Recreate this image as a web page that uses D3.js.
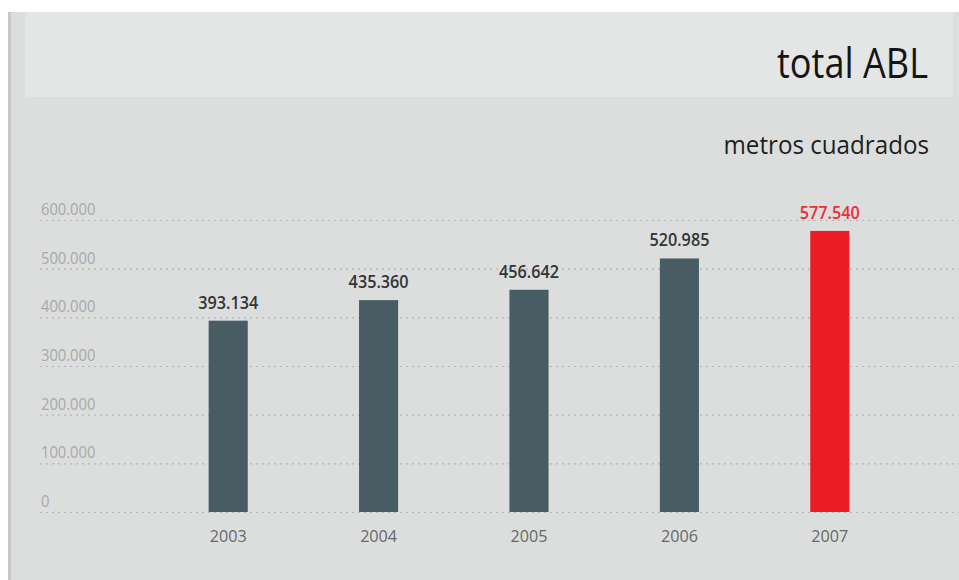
<!DOCTYPE html>
<html>
<head>
<meta charset="utf-8">
<script src="https://cdn.jsdelivr.net/npm/d3@7"></script>
<style>
  body { margin: 0; background: #fff; }
  svg { display: block; font-family: "Open Sans", "Noto Sans", sans-serif; }
</style>
</head>
<body>
<svg id="chart" width="959" height="580"></svg>
<script>
// data
var years = ["2003", "2004", "2005", "2006", "2007"];
var areaValues = [393134, 435360, 456642, 520985, 577540];
var valueLabels = ["393.134", "435.360", "456.642", "520.985", "577.540"];
var tickValues = [0, 100000, 200000, 300000, 400000, 500000, 600000];
var tickLabels = ["0", "100.000", "200.000", "300.000", "400.000", "500.000", "600.000"];

var svg = d3.select("#chart");

// background panel
svg.append("rect").attr("x", 8).attr("y", 12).attr("width", 951).attr("height", 568).attr("fill", "#dcdedd");
svg.append("rect").attr("x", 8).attr("y", 12).attr("width", 3).attr("height", 568).attr("fill", "#c6c8c7");
// header band
svg.append("rect").attr("x", 25).attr("y", 12).attr("width", 928).attr("height", 85).attr("fill", "#e4e6e5");

// title, squeezed a bit to look like a condensed face
svg.append("text")
    .attr("transform", "translate(928,78) scale(0.86,1)")
    .attr("text-anchor", "end")
    .attr("font-size", 42)
    .attr("fill", "#151515")
    .text("total ABL");

svg.append("text")
    .attr("transform", "translate(929,154) scale(0.93,1)")
    .attr("text-anchor", "end")
    .attr("font-size", 26)
    .attr("fill", "#1e1e1e")
    .text("metros cuadrados");

// scales
var x = d3.scaleBand().domain(years).range([153, 905]).paddingInner(0.74).paddingOuter(0.37);
var y = d3.scaleLinear().domain([0, 600000]).range([512, 220]);

// dotted gridlines
svg.append("g").selectAll("line")
    .data(tickValues)
    .join("line")
    .attr("x1", 40).attr("x2", 959)
    .attr("y1", function(d) { return y(d) + 0.5; })
    .attr("y2", function(d) { return y(d) + 0.5; })
    .attr("stroke", "#b2b5b4")
    .attr("stroke-width", 1.2)
    .attr("stroke-dasharray", "2,4");

// y tick labels
svg.append("g").selectAll("text")
    .data(tickValues)
    .join("text")
    .attr("transform", function(d) { return "translate(41," + (y(d) - 5) + ") scale(0.92,1)"; })
    .attr("font-size", 16)
    .attr("fill", "#a6a9a8")
    .text(function(d, i) { return tickLabels[i]; });

// bars
svg.append("g").selectAll("rect")
    .data(areaValues)
    .join("rect")
    .attr("x", function(d, i) { return x(years[i]); })
    .attr("y", function(d) { return y(d); })
    .attr("width", x.bandwidth())
    .attr("height", function(d) { return y(0) - y(d); })
    .attr("fill", function(d, i) { return i === years.length - 1 ? "#ec1c24" : "#475d63"; });

// value labels
svg.append("g").selectAll("text")
    .data(areaValues)
    .join("text")
    .attr("transform", function(d, i) {
        return "translate(" + (x(years[i]) + x.bandwidth() / 2) + "," + (y(d) - 12) + ") scale(0.9,1)";
    })
    .attr("text-anchor", "middle")
    .attr("font-size", 18)
    .attr("font-weight", 600)
    .attr("fill", function(d, i) { return i === years.length - 1 ? "#e8303a" : "#333535"; })
    .text(function(d, i) { return valueLabels[i]; });

// year labels
svg.append("g").selectAll("text")
    .data(years)
    .join("text")
    .attr("transform", function(d) { return "translate(" + (x(d) + x.bandwidth() / 2) + ",542) scale(0.95,1)"; })
    .attr("text-anchor", "middle")
    .attr("font-size", 17)
    .attr("fill", "#666868")
    .text(function(d) { return d; });
</script>
</body>
</html>
